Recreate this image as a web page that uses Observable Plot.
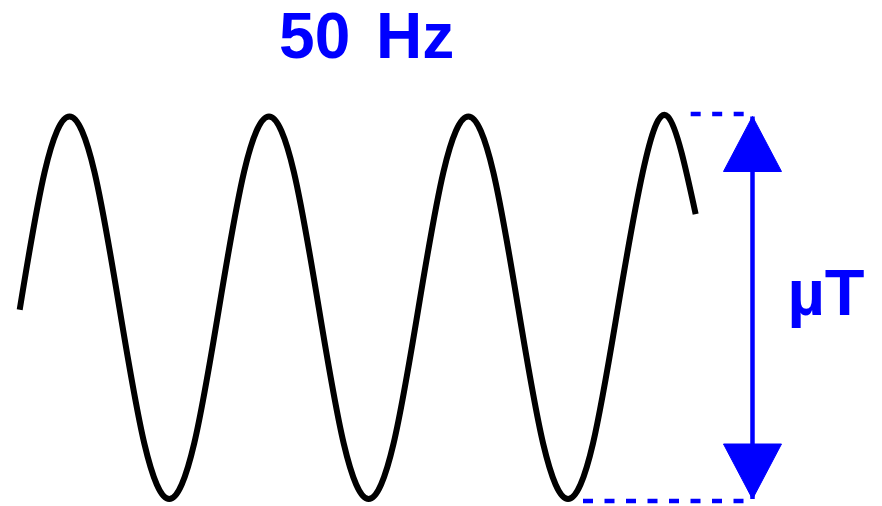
<!DOCTYPE html>
<html><head><meta charset="utf-8">
<script src="https://cdn.jsdelivr.net/npm/d3@7"></script>
<script src="https://cdn.jsdelivr.net/npm/@observablehq/plot@0.6"></script>
<style>
body{margin:0;background:#fff}
.title text{word-spacing:8px}
</style>
</head><body><div id="chart"></div>
<script>
// Wave samples: time (ms) and normalised field (µT, peak = 1)
const timeMs = [0, 2.5, 5, 7.5, 10, 12.5, 15, 17.5, 20, 22.5, 25, 27.5, 30, 32.5, 35, 37.5, 40, 42.5, 45, 47.5, 50, 52.5, 55, 57.5, 60, 62.5, 65, 67.8];
const fieldUT = [-0.01, 0.71, 1, 0.71, 0, -0.71, -1, -0.71, 0, 0.71, 1, 0.71, 0, -0.71, -1, -0.71, 0, 0.71, 1, 0.71, 0, -0.71, -1, -0.71, 0, 0.71, 1, 0.49];

// Peak / trough reference (dashed) lines
const refLevels = [1.013, -1.01];
const refStart = [67.3, 56.5];
const refEnd = [72.8, 72.8];

// Amplitude arrow
const arrowTime = [73.5];
const arrowTop = [1];
const arrowBottom = [-1];

// Labels
const titleText = ["50 Hz"];
const titlePos = [34.8, 1.305];
const unitText = ["µT"];
const unitPos = [77.0, -0.04];

const wave = timeMs.map((t, i) => ({t, v: fieldUT[i]}));
const refs = refLevels.map((v, i) => ({v, t1: refStart[i], t2: refEnd[i]}));
const arrow = arrowTime.map((t, i) => ({t, top: arrowTop[i], bottom: arrowBottom[i]}));

const blue = "#0000ff";
const upHead = {draw(ctx) { ctx.moveTo(0, 0); ctx.lineTo(29, 55); ctx.lineTo(-29, 55); ctx.closePath(); }};
const downHead = {draw(ctx) { ctx.moveTo(0, 0); ctx.lineTo(29, -55); ctx.lineTo(-29, -55); ctx.closePath(); }};

const chart = Plot.plot({
  width: 882,
  height: 506,
  margin: 0,
  style: {background: "#fff"},
  x: {domain: [0, 20], range: [19.2, 218.6], axis: null},
  y: {domain: [-1, 1], range: [498.5, 116], axis: null},
  marks: [
    Plot.line(wave, {x: "t", y: "v", curve: "natural", stroke: "#000", strokeWidth: 6, strokeLinecap: "butt", clip: false}),
    Plot.link(refs, {x1: "t1", x2: "t2", y1: "v", y2: "v", stroke: blue, strokeWidth: 4.5, strokeDasharray: "10,11.5"}),
    Plot.link(arrow, {x1: "t", x2: "t", y1: "top", y2: "bottom", stroke: blue, strokeWidth: 4.5}),
    Plot.dot(arrow, {x: "t", y: "top", symbol: upHead, fill: blue, stroke: blue, strokeWidth: 1}),
    Plot.dot(arrow, {x: "t", y: "bottom", symbol: downHead, fill: blue, stroke: blue, strokeWidth: 1}),
    Plot.text(titleText, {x: () => titlePos[0], y: () => titlePos[1], text: d => d, fill: blue, fontSize: 64, fontWeight: "bold", fontFamily: "Liberation Sans, Arial, sans-serif", textAnchor: "middle", lineAnchor: "bottom", className: "title"}),
    Plot.text(unitText, {x: () => unitPos[0], y: () => unitPos[1], text: d => d, fill: blue, fontSize: 65, fontWeight: "bold", fontFamily: "Liberation Sans, Arial, sans-serif", textAnchor: "start", lineAnchor: "bottom"})
  ]
});
document.getElementById("chart").appendChild(chart);
</script>
</body></html>
